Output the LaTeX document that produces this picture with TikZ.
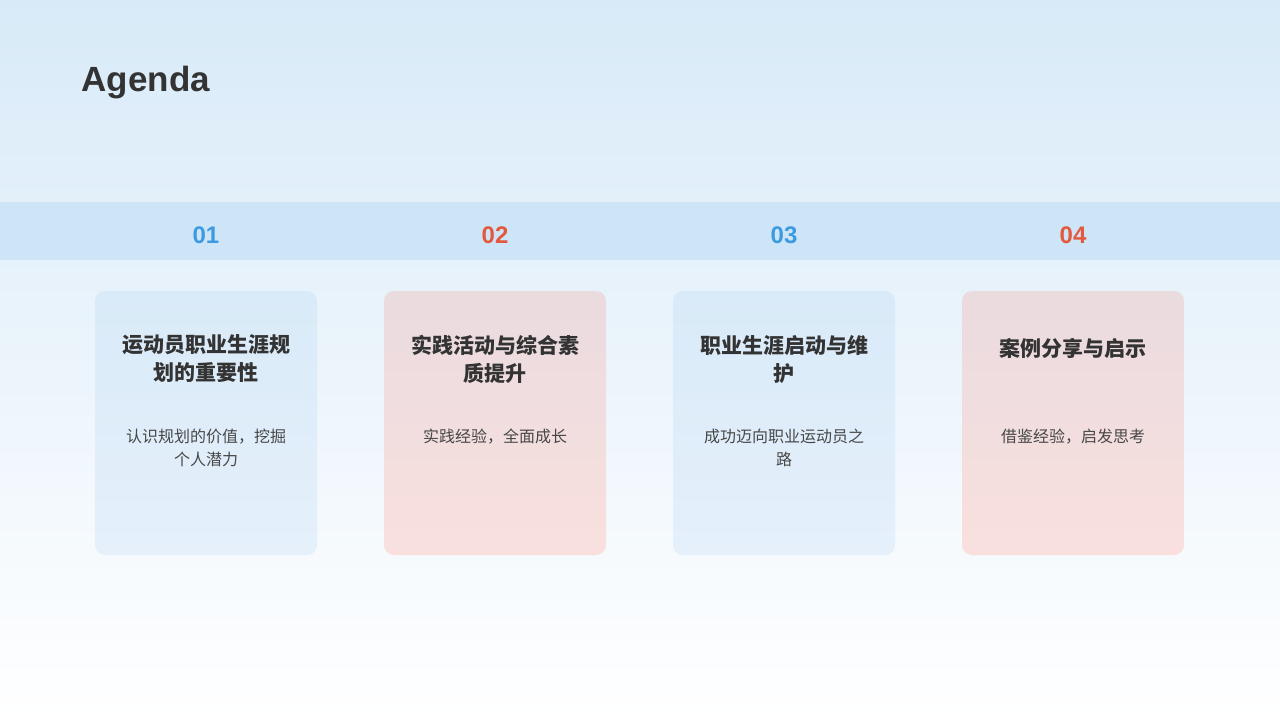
\documentclass[tikz,border=0pt]{standalone}
\usepackage{fontspec}
\setmainfont{Liberation Sans}
\newfontfamily\cjk{Noto Sans CJK SC}
\usetikzlibrary{shadings}
\definecolor{bgtop}{HTML}{D8EAF8}
\definecolor{bgbot}{HTML}{FFFFFF}
\definecolor{band}{HTML}{CDE5F7}
\definecolor{nblue}{HTML}{3C9BE0}
\definecolor{nred}{HTML}{E4583E}
\definecolor{txt}{HTML}{333333}
\definecolor{bcT}{HTML}{D9EAF8}
\definecolor{bcB}{HTML}{E5F0FB}
\definecolor{rcT}{HTML}{EADBDF}
\definecolor{rcB}{HTML}{F9E0DE}
\tikzset{
 card/.style={rounded corners=10pt,draw=none},
 bluecard/.style={card,top color=bcT,bottom color=bcB},
 redcard/.style={card,top color=rcT,bottom color=rcB},
 num/.style={font=\fontsize{24pt}{28pt}\selectfont\bfseries},
 ctitle/.style={font=\cjk\fontsize{21pt}{28pt}\selectfont\bfseries,text=txt,align=center},
 csub/.style={font=\cjk\fontsize{16pt}{23pt}\selectfont,text=txt!90,align=center}
}
\begin{document}
\begin{tikzpicture}[x=1pt,y=-1pt]
\useasboundingbox (0,0) rectangle (1280,720);
\shade[top color=bgtop,bottom color=bgbot] (0,0) rectangle (1280,720);
\fill[band] (0,202) rectangle (1280,260);
\node[anchor=west,font=\fontsize{35pt}{40pt}\selectfont\bfseries,text=txt] (title) at (78,83) {Agenda};
\foreach \i/\x/\c/\s in {1/206/nblue/bluecard,2/495/nred/redcard,3/784/nblue/bluecard,4/1073/nred/redcard}{
 \node[num,text=\c] (n\i) at (\x,235) {0\i};
 \path[\s] (\x-111,291) rectangle (\x+111,555);
 \coordinate (c\i) at (\x,291);
}
\node[ctitle] (t1) at (206,359) {运动员职业生涯规\\划的重要性};
\node[ctitle] (t2) at (495,359) {实践活动与综合素\\质提升};
\node[ctitle] (t3) at (784,359) {职业生涯启动与维\\护};
\node[ctitle] (t4) at (1073,348) {案例分享与启示};
\node[csub] (s1) at (206,448) {认识规划的价值，挖掘\\个人潜力};
\node[csub] (s2) at (495,437) {实践经验，全面成长};
\node[csub] (s3) at (784,448) {成功迈向职业运动员之\\路};
\node[csub] (s4) at (1073,437) {借鉴经验，启发思考};
\end{tikzpicture}
\end{document}
